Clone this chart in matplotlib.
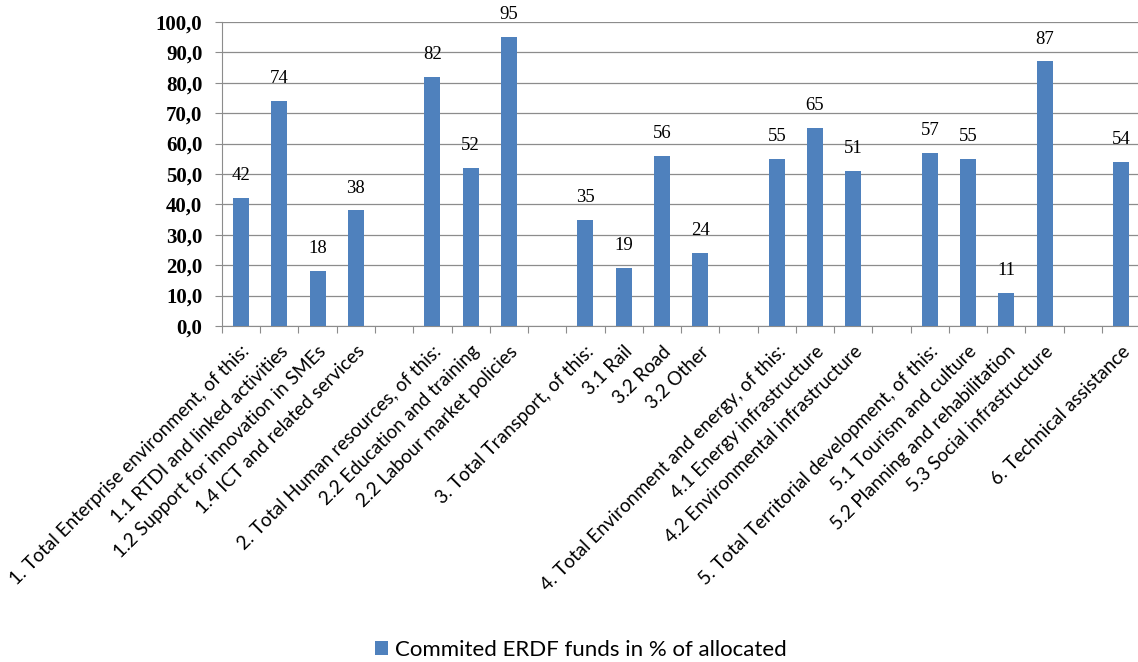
import numpy as np
import matplotlib.pyplot as plt

# categories (empty strings are spacer slots between groups)
categories = [
    "1. Total Enterprise environment, of this:",
    "1.1 RTDI and linked activities",
    "1.2 Support for innovation in SMEs",
    "1.4 ICT and related services",
    "",
    "2. Total Human resources, of this:",
    "2.2 Education and training",
    "2.2 Labour market policies",
    "",
    "3. Total Transport, of this:",
    "3.1 Rail",
    "3.2 Road",
    "3.2 Other",
    "",
    "4. Total Environment and energy, of this:",
    "4.1 Energy infrastructure",
    "4.2 Environmental infrastructure",
    "",
    "5. Total Territorial development, of this:",
    "5.1 Tourism and culture",
    "5.2 Planning and rehabilitation",
    "5.3 Social infrastructure",
    "",
    "6. Technical assistance",
]
valores = [42, 74, 18, 38, None, 82, 52, 95, None, 35, 19, 56, 24, None,
           55, 65, 51, None, 57, 55, 11, 87, None, 54]
serie = "Commited ERDF funds in % of allocated"
yticks = np.arange(0, 101, 10)

cor = "#4F81BD"
fig = plt.figure(figsize=(11.38, 6.62), dpi=100)
ax = fig.add_axes([0.195, 0.5076, 0.807, 0.4592])

x = np.arange(len(categories))
mask = [v is not None for v in valores]
xs = x[mask]
ys = [v for v in valores if v is not None]
barras = ax.bar(xs, ys, width=0.42, color=cor, label=serie, zorder=3)

for xi, yi in zip(xs, ys):
    ax.annotate(f"{yi:.0f}", (xi, yi), xytext=(0, 10), textcoords="offset points",
                ha="center", va="bottom", fontsize=13.5, family="Liberation Serif")

ax.set_xlim(-0.5, len(categories) - 0.5)
ax.set_ylim(0, 100)
ax.set_yticks(yticks)
ax.set_yticklabels([f"{t:.1f}".replace(".", ",") for t in yticks],
                   fontsize=15, family="Liberation Serif", fontweight="bold")
ax.yaxis.grid(True, color="#8C8C8C", linewidth=0.9, zorder=0)
ax.tick_params(axis="y", length=5, color="#8C8C8C", pad=9)

# tick marks sit on the slot boundaries, labels at slot centres
ax.set_xticks(np.arange(len(categories) + 1) - 0.5)
ax.set_xticklabels([])
ax.set_xticks(x, minor=True)
ax.set_xticklabels(categories, minor=True, rotation=45, ha="right",
                   rotation_mode="anchor", fontsize=13.6, family="Lato")
ax.tick_params(axis="x", which="major", length=5, color="#8C8C8C")
ax.tick_params(axis="x", which="minor", length=0, pad=12)

for lado in ["top", "right"]:
    ax.spines[lado].set_visible(False)
ax.spines["left"].set_color("#8C8C8C")
ax.spines["bottom"].set_color("#8C8C8C")

fig.legend(handles=[barras], labels=[serie], loc="center", bbox_to_anchor=(0.51, 0.018),
           frameon=False, prop={"family": "Lato", "size": 16},
           handlelength=0.6, handleheight=0.6, handletextpad=0.3)

fig.savefig("out.png", dpi=100)
